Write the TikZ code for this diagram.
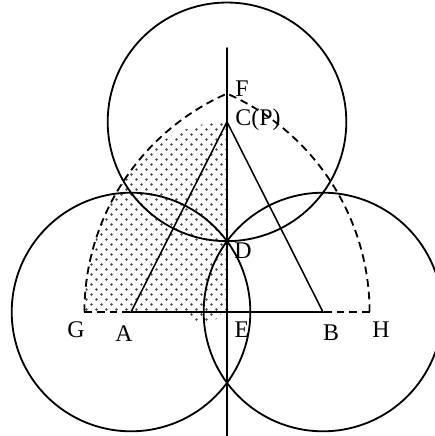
\documentclass[tikz,border=0pt]{standalone}
\usepackage{fontspec}
\setmainfont{Liberation Serif}
\usepackage{tikz}
\usetikzlibrary{calc, patterns, positioning}
\pgfdeclarepatternformonly{gdots}{\pgfpointorigin}{\pgfpoint{7.1pt}{7.1pt}}{\pgfpoint{7.1pt}{7.1pt}}{
	\pgfpathcircle{\pgfpoint{1.77pt}{1.77pt}}{0.95pt}
	\pgfpathcircle{\pgfpoint{5.32pt}{5.32pt}}{0.95pt}
	\pgfusepath{fill}
}
\tikzset{
	ptlabel/.style={
			inner sep=0pt,
			font=\fontsize{17}{19}\selectfont
		},
	solidline/.style={
			line width=1.1pt,
			line cap=round
		},
	circline/.style={
			solidline,
			line width=1.3pt
		},
	dashline/.style={
			line width=1.3pt,
			dash pattern=on 5.5pt off 3.5pt
		},
	dotfill/.style={
			pattern=gdots,
			pattern color=black!70
		}
}

\begin{document}
\begin{tikzpicture}[scale=0.025]
\useasboundingbox (-227,-124) rectangle (208,312);
\coordinate (E) at (0,0);
\coordinate (A) at (-96,0);
\coordinate (B) at (96,0);
\coordinate (C) at (0,190.2);
\coordinate (D) at (0,70.9);
\coordinate (F) at (0,218.5);
\coordinate (G) at (-142.6,0);
\coordinate (H) at (142.6,0);
\coordinate (Top) at (0,264);
\coordinate (Bot) at (0,-124);

% shaded region
\fill[dotfill] (G) arc[start angle=180, end angle=143.6, radius=238.6]
	arc[start angle=143.6, end angle=90, radius=119.3] -- (E) -- (-5,0)
	.. controls (-12,-15) and (-37,-14) .. (-44,0) -- cycle;

\node[ptlabel] (lF) at (15,223) {F};
\node[ptlabel] (lC) at (31,192) {C(P)};
\node[ptlabel] (lD) at (16,61) {D};
\node[ptlabel] (lE) at (15,-18) {E};
\node[ptlabel] (lG) at (-151,-18) {G};
\node[ptlabel] (lA) at (-103,-22) {A};
\node[ptlabel] (lB) at (104,-21) {B};
\node[ptlabel] (lH) at (154,-18) {H};

\draw[circline] (A) circle (119.3);
\draw[circline] (B) circle (119.3);
\draw[circline] (C) circle (119.3);

\draw[circline] (Top) -- (Bot);
\draw[solidline] (A) -- (B) -- (C) -- cycle;
\draw[dashline] (G) -- (A);
\draw[dashline] (H) -- (B);
\draw[dashline] (G) arc[start angle=180, end angle=113.7, radius=238.6];
\draw[dashline] (H) arc[start angle=0, end angle=66.3, radius=238.6];

\end{tikzpicture}
\end{document}
